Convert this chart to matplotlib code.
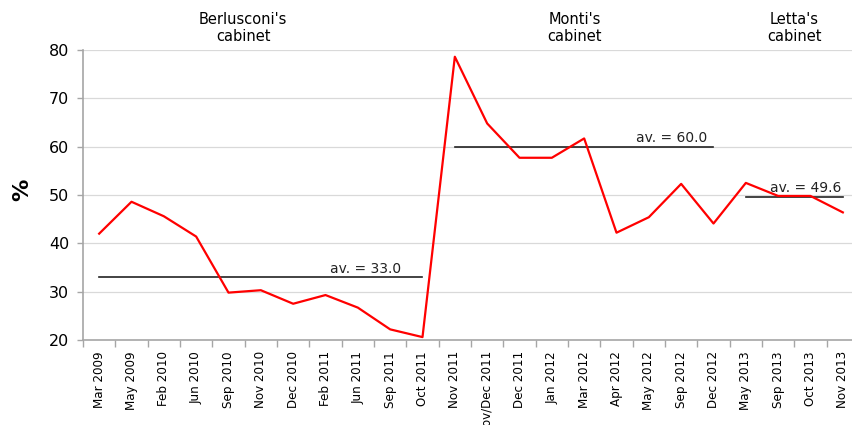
import matplotlib
matplotlib.use("Agg")
import matplotlib.pyplot as plt
import matplotlib.transforms as mtransforms
from matplotlib import font_manager

# survey dates, one per poll
months = ["Mar 2009", "May 2009", "Feb 2010", "Jun 2010", "Sep 2010", "Nov 2010",
          "Dec 2010", "Feb 2011", "Jun 2011", "Sep 2011", "Oct 2011", "Nov 2011",
          "Nov/Dec 2011", "Dec 2011", "Jan 2012", "Mar 2012", "Apr 2012", "May 2012",
          "Sep 2012", "Dec 2012", "May 2013", "Sep 2013", "Oct 2013", "Nov 2013"]

# confidence in the government, %
trust = [42.0, 48.6, 45.6, 41.4, 29.8, 30.3, 27.5, 29.3, 26.7, 22.2, 20.6, 78.6,
         64.8, 57.7, 57.7, 61.7, 42.2, 45.4, 52.3, 44.1, 52.5, 49.8, 49.8, 46.4]

# cabinets: name, first and last poll index, stated average
cabinets = ["Berlusconi's\ncabinet", "Monti's\ncabinet", "Letta's\ncabinet"]
cab_start = [0, 11, 20]
cab_end = [10, 19, 23]
cab_avg = [33.0, 60.0, 49.6]

# where the "av." labels end and where the cabinet titles sit (category units)
avg_label_shift = [-0.65, -0.2, -0.05]
title_x = [4.45, 14.7, 21.5]

# condensed face for the date labels
narrow_file = None
for f in font_manager.fontManager.ttflist:
    if f.name == "DejaVu Sans" and f.stretch == "condensed" and f.style == "normal" \
            and f.weight in (400, "normal"):
        narrow_file = f.fname
if narrow_file:
    date_font = font_manager.FontProperties(fname=narrow_file, size=9.5)
else:
    date_font = font_manager.FontProperties(family="DejaVu Sans", size=8.5)

fig = plt.figure(figsize=(8.52, 4.25), dpi=100)
ax = fig.add_axes([83 / 852, 0.2, 776 / 852, 0.6824])

x = list(range(len(months)))
ax.plot(x, trust, color="#ff0000", lw=1.6, zorder=3)

for s, e, av, dx in zip(cab_start, cab_end, cab_avg, avg_label_shift):
    ax.plot([s, e], [av, av], color="#222222", lw=1.2, zorder=2)
    ax.text(e + dx, av + 0.3, f"av. = {av:.1f}",
            ha="right", va="bottom", fontsize=10, color="#222222", zorder=4)

# cabinet titles above the plot area
trans = mtransforms.blended_transform_factory(ax.transData, ax.transAxes)
for name, tx in zip(cabinets, title_x):
    ax.text(tx, 1.02, name, transform=trans, ha="center", va="bottom",
            fontsize=10.5, linespacing=1.15, clip_on=False)

ax.set_xlim(-0.5, 23.5)
ax.set_ylim(20, 80)
ax.set_yticks(range(20, 81, 10))
ax.set_yticklabels([str(v) for v in range(20, 81, 10)], fontsize=11.5)
ax.grid(axis="y", color="#d9d9d9", lw=0.9)
ax.set_axisbelow(True)

ax.set_xticks(x)
ax.set_xticklabels(months, rotation=90, fontproperties=date_font)
ax.tick_params(axis="x", length=0, pad=8)
ax.set_xticks([i + 0.5 for i in range(-1, 24)], minor=True)
ax.tick_params(axis="x", which="minor", length=5, color="#a6a6a6", width=1)
ax.tick_params(axis="y", length=4, color="#a6a6a6", width=1, pad=6)

for side in ["top", "right"]:
    ax.spines[side].set_visible(False)
for side in ["left", "bottom"]:
    ax.spines[side].set_color("#a6a6a6")
    ax.spines[side].set_linewidth(1.2)

fig.text(22 / 852, 1 - 190 / 425, "%", rotation=90, ha="center", va="center",
         fontsize=16, fontweight="bold")

fig.savefig("out.png", dpi=100)
